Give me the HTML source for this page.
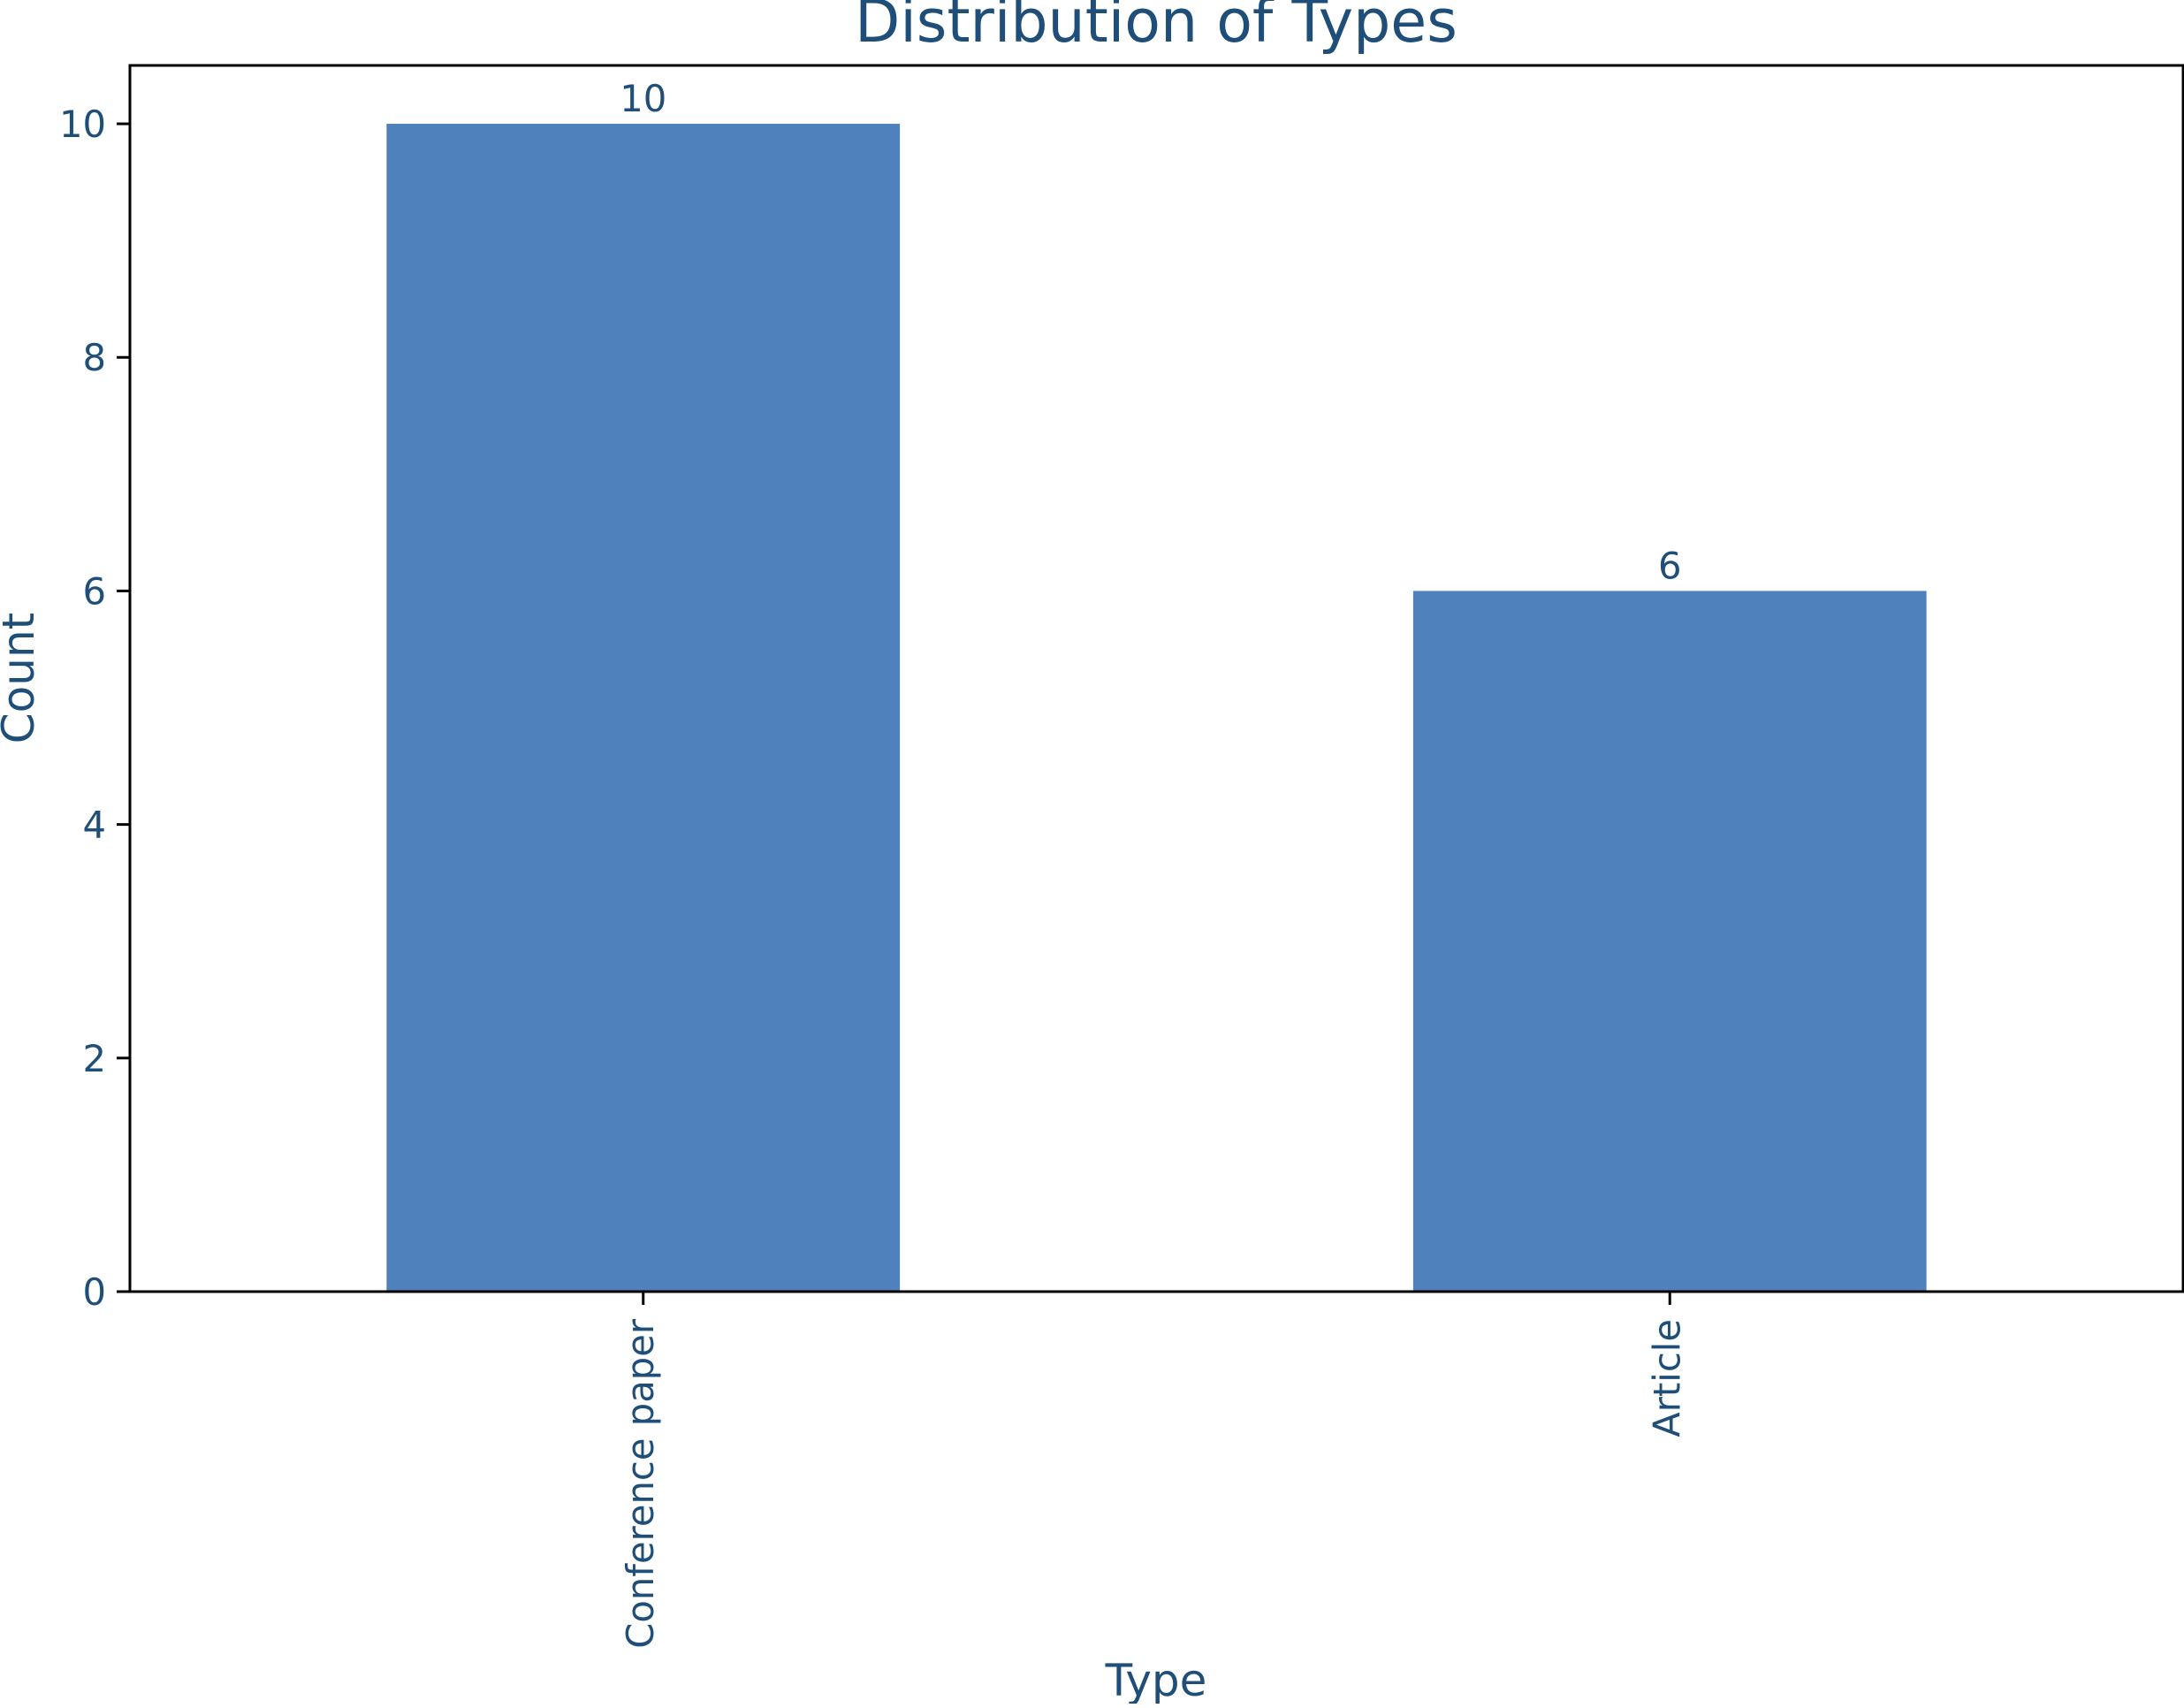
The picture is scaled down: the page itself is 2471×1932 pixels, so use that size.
<!DOCTYPE html>
<html><head><meta charset="utf-8"><style>
html,body{margin:0;padding:0;background:#fff;}
svg text{font-family:"DejaVu Sans","Liberation Sans",sans-serif;fill:#1f4e79;}
</style></head><body>
<svg id="chart" width="2471" height="1927" viewBox="0 0 2471 1927" xmlns="http://www.w3.org/2000/svg">
<rect x="0" y="0" width="2471" height="1927" fill="#fff"/>
<g id="plot"></g>
<text x="1308" y="47" font-size="66.5" text-anchor="middle">Distribution of Types</text>
<text x="1308" y="1918" font-size="50" text-anchor="middle">Type</text>
<text transform="translate(38,767) rotate(-90)" font-size="50" text-anchor="middle">Count</text>
</svg>
<script>
const categories = ["Conference paper", "Article"];
const counts = [10, 6];
const yTicks = [0, 2, 4, 6, 8, 10];

const L = 147, R = 2470, T = 74, B = 1461;
const yMax = 10.5;
const xMin = -0.5, xMax = categories.length - 0.5;
const xs = i => L + (i - xMin) / (xMax - xMin) * (R - L);
const ys = v => B - v / yMax * (B - T);
const NS = "http://www.w3.org/2000/svg";
const g = document.getElementById('plot');
function mk(tag, attrs) {
  const e = document.createElementNS(NS, tag);
  for (const k in attrs) e.setAttribute(k, attrs[k]);
  g.appendChild(e);
  return e;
}
const bw = (xs(1) - xs(0)) * 0.5;
categories.forEach((c, i) => {
  const r = mk('rect', {x: xs(i) - bw / 2, y: ys(counts[i]), width: bw, height: ys(0) - ys(counts[i]), fill: '#4f81bd'});
  
  
  const v = mk('text', {x: xs(i), y: ys(counts[i]) - 14, 'font-size': 41.7, 'text-anchor': 'middle'});
  v.textContent = counts[i];
  
  
  const t = mk('line', {x1: xs(i), x2: xs(i), y1: B, y2: B + 15, stroke: '#000', 'stroke-width': 3});
  
  
  const lx = xs(i) + 11;
  const lab = mk('text', {transform: `translate(${lx},${B + 31}) rotate(-90)`, 'font-size': 41.7, 'text-anchor': 'end'});
  lab.textContent = c;
  
  
});
yTicks.forEach(v => {
  const t = mk('line', {x1: L - 15, x2: L, y1: ys(v), y2: ys(v), stroke: '#000', 'stroke-width': 3});
  
  
  const lab = mk('text', {x: L - 27, y: ys(v) + 15, 'font-size': 41.7, 'text-anchor': 'end'});
  lab.textContent = v;
  
  
});
const frame = mk('rect', {x: L, y: T, width: R - L, height: B - T, fill: 'none', stroke: '#000', 'stroke-width': 3});


</script>
</body></html>
